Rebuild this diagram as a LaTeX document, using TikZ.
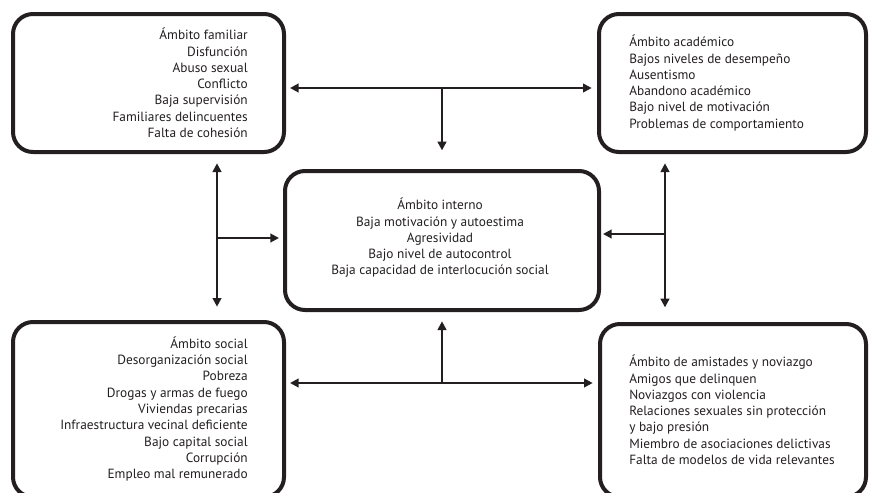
\documentclass[tikz,border=0pt]{standalone}
\usepackage{fontspec}
\setmainfont{PT Sans}
\usetikzlibrary{arrows.meta,positioning,fit}
\definecolor{tinta}{RGB}{35,31,32}

\begin{document}
\begin{tikzpicture}[x=0.75pt,y=-0.75pt,color=tinta,
	caja/.style={draw,line width=3pt,rounded corners=15pt,inner sep=0pt},
	lista/.style={font=\fontsize{10}{12.2}\selectfont,inner sep=0pt},
	flecha/.style={line width=1.5pt,-{Triangle[length=6.5pt,width=6.5pt]}},
	dflecha/.style={line width=1.5pt,{Triangle[length=6.5pt,width=6.5pt]}-{Triangle[length=6.5pt,width=6.5pt]}}]
	\useasboundingbox (0,0) rectangle (869,493);
	\clip (0,0) rectangle (869,493);

	% cajas
	\node[caja,fit={(13,14) (284,152)}] (fam) {};
	\node[caja,fit={(599,14) (866,152)}] (acad) {};
	\node[caja,fit={(285,171) (599,310)}] (int) {};
	\node[caja,fit={(13,322) (284,497)}] (soc) {};
	\node[caja,fit={(600,324) (866,497)}] (amis) {};

	% textos
	\node[lista,align=right,anchor=east] (famtxt) at (248,83) {Ámbito familiar\\Disfunción\\Abuso sexual\\Conflicto\\Baja supervisión\\Familiares delincuentes\\Falta de cohesión};
	\node[lista,align=left,anchor=west] (acadtxt) at (629,83) {Ámbito académico\\Bajos niveles de desempeño\\Ausentismo\\Abandono académico\\Bajo nivel de motivación\\Problemas de comportamiento};
	\node[lista,align=center] (inttxt) at (440,238) {Ámbito interno\\Baja motivación y autoestima\\Agresividad\\Bajo nivel de autocontrol\\Baja capacidad de interlocución social};
	\node[lista,align=right,anchor=east] (soctxt) at (248,409) {Ámbito social\\Desorganización social\\Pobreza\\Drogas y armas de fuego\\Viviendas precarias\\Infraestructura vecinal deficiente\\Bajo capital social\\Corrupción\\Empleo mal remunerado};
	\node[lista,align=left,anchor=west] (amistxt) at (629,410) {Ámbito de amistades y noviazgo\\Amigos que delinquen\\Noviazgos con violencia\\Relaciones sexuales sin protección\\y bajo presión\\Miembro de asociaciones delictivas\\Falta de modelos de vida relevantes};

	% flechas
	\coordinate (arr) at (442,88);
	\coordinate (aba) at (442,383);
	\coordinate (izq) at (217,238);
	\coordinate (der) at (665,234);
	\draw[dflecha,shorten <=3pt,shorten >=4pt] (fam.east |- arr) -- (acad.west |- arr);
	\draw[flecha,shorten >=14pt] (arr) -- (arr |- int.north);
	\draw[dflecha,shorten <=3pt,shorten >=4pt] (soc.east |- aba) -- (amis.west |- aba);
	\draw[flecha,shorten >=7pt] (aba) -- (aba |- int.south);
	\draw[dflecha,shorten <=7pt,shorten >=10pt] (izq |- fam.south) -- (izq |- soc.north);
	\draw[flecha,shorten >=3pt] (izq) -- (izq -| int.west);
	\draw[dflecha,shorten <=7pt,shorten >=11pt] (der |- acad.south) -- (der |- amis.north);
	\draw[flecha,shorten >=1.5pt] (der) -- (der -| int.east);
\end{tikzpicture}
\end{document}
